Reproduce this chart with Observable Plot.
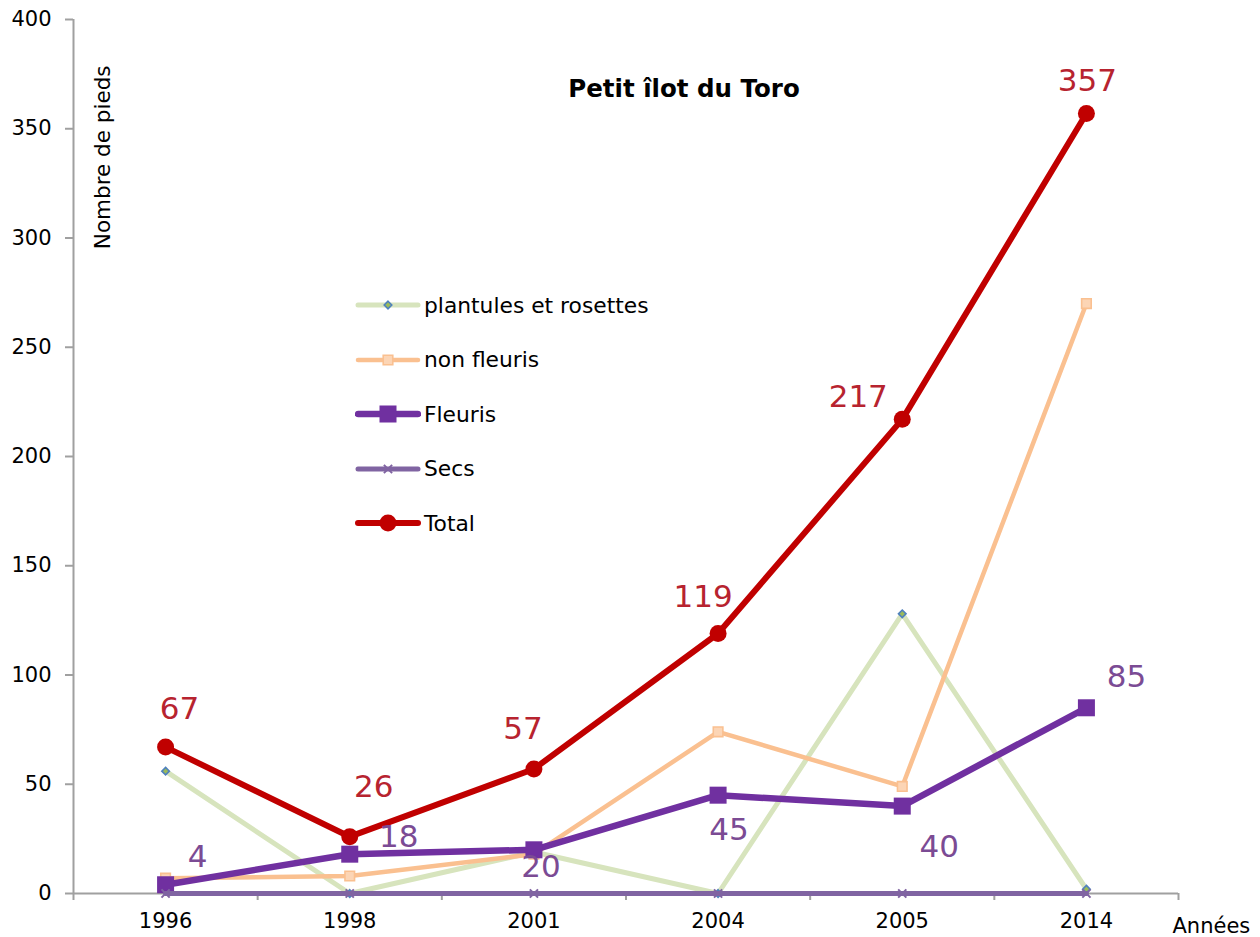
<!DOCTYPE html>
<html>
<head>
<meta charset="utf-8">
<script src="https://cdn.jsdelivr.net/npm/d3@7"></script>
<script src="https://cdn.jsdelivr.net/npm/@observablehq/plot@0.6"></script>
<style>
  body { margin: 0; background: #fff; font-family: "DejaVu Sans", Verdana, sans-serif; }
  #chart { position: relative; width: 1260px; height: 937px; }
  #chart svg { display: block; }
  .title { position: absolute; left: 684px; top: 88px; transform: translate(-50%, -50%);
           font-weight: bold; font-size: 24.5px; color: #000; white-space: nowrap; }
  .legend { position: absolute; left: 355px; top: 278px; }
  .legend .row { display: flex; align-items: center; height: 54.5px; }
  .legend .row span { font-size: 21.8px; color: #000; margin-left: 3px; white-space: nowrap; }
</style>
</head>
<body>
<div id="chart">
  <div class="title">Petit îlot du Toro</div>
  <div class="legend" id="legend"></div>
</div>
<script>
// Relevés par année
const years = ["1996", "1998", "2001", "2004", "2005", "2014"];
const plantules = [56, 0, 19, 0, 128, 2];
const nonFleuris = [7, 8, 18, 74, 49, 270];
const fleuris = [4, 18, 20, 45, 40, 85];
const secs = [0, 0, 0, 0, 0, 0];
const total = [67, 26, 57, 119, 217, 357];
const yTicks = [0, 50, 100, 150, 200, 250, 300, 350, 400];

// Décalages (px) des étiquettes de valeurs
const totalLabelOffsets = [[14, -38], [24, -50], [-11, -40], [-15, -36], [-44, -22], [1, -32]];
const fleurisLabelOffsets = [[32, -28], [49, -17], [7, 17], [11, 35], [37, 41], [40, -31]];

const series = [
  {name: "plantules et rosettes", values: plantules, line: "#d7e4bd", width: 5,
   symbol: "diamond2", r: 3.4, fill: "#9bbb59", stroke: "#4f81bd", sw: 1.6},
  {name: "non fleuris", values: nonFleuris, line: "#fac090", width: 4.5,
   symbol: "square", r: 5.4, fill: "#fcd5b5", stroke: "#fac090", sw: 1.6},
  {name: "Fleuris", values: fleuris, line: "#7030a0", width: 6.5,
   symbol: "square", r: 9.6, fill: "#7030a0", stroke: "none", sw: 0},
  {name: "Secs", values: secs, line: "#8064a2", width: 5,
   symbol: "times", r: 3.8, fill: "none", stroke: "#8064a2", sw: 2},
  {name: "Total", values: total, line: "#c00000", width: 6,
   symbol: "circle", r: 8.5, fill: "#c00000", stroke: "none", sw: 0}
];

const rowsOf = (s) => s.values.map((v, i) => ({i, year: years[i], v, name: s.name}));

const seriesMarks = series.flatMap((s) => {
  const rows = rowsOf(s);
  return [
    Plot.line(rows, {x: "i", y: "v", stroke: s.line, strokeWidth: s.width,
                     strokeLinejoin: "round", strokeLinecap: "round"}),
    Plot.dot(rows, {x: "i", y: "v", symbol: s.symbol, r: s.r, fill: s.fill,
                    stroke: s.stroke, strokeWidth: s.sw})
  ];
});

const valueLabels = (values, offsets, color) =>
  values.map((v, i) =>
    Plot.text([{i, v}], {x: "i", y: "v", text: (d) => String(d.v), fill: color,
                         fontSize: 31, textAnchor: "middle", lineAnchor: "middle",
                         dx: offsets[i][0], dy: offsets[i][1]}));

const xIndex = years.map((_, i) => i);
const xBounds = d3.range(-0.5, years.length, 1);
const axisGrey = "#a0a0a0";

const chart = Plot.plot({
  width: 1260,
  height: 937,
  marginLeft: 73,
  marginRight: 82,
  marginTop: 19,
  marginBottom: 44,
  style: {fontFamily: "'DejaVu Sans', Verdana, sans-serif", background: "#fff"},
  x: {type: "linear", domain: [-0.5, years.length - 0.5], axis: null},
  y: {domain: [0, 400], axis: null},
  marks: [
    Plot.axisY({ticks: yTicks, tickSize: 8, tickPadding: 14, fontSize: 21,
                stroke: axisGrey, strokeWidth: 2, fill: "#000", label: null}),
    Plot.axisX({ticks: xBounds, tickSize: 7, tickFormat: () => "",
                stroke: axisGrey, strokeWidth: 2, label: null}),
    Plot.axisX({ticks: xIndex, tickSize: 0, tickPadding: 20, fontSize: 21,
                tickFormat: (i) => years[i], fill: "#000", label: null}),
    Plot.ruleX([-0.5], {stroke: axisGrey, strokeWidth: 2}),
    Plot.ruleY([0], {stroke: axisGrey, strokeWidth: 2}),
    Plot.text(["Nombre de pieds"], {frameAnchor: "top-left", rotate: -90,
              textAnchor: "end", lineAnchor: "middle", dx: 30, dy: 46,
              fontSize: 21.5, fill: "#000"}),
    Plot.text(["Années"], {frameAnchor: "bottom-right", textAnchor: "start",
              lineAnchor: "middle", dx: -6, dy: 33, fontSize: 21, fill: "#000"}),
    ...seriesMarks,
    ...valueLabels(total, totalLabelOffsets, "#b7232f"),
    ...valueLabels(fleuris, fleurisLabelOffsets, "#7b4b94")
  ]
});

const container = document.getElementById("chart");
container.insertBefore(chart, container.firstChild);

// Légende
const legend = d3.select("#legend");
series.forEach((s) => {
  const row = legend.append("div").attr("class", "row");
  const sw = row.append("svg").attr("width", 66).attr("height", 22);
  sw.append("line").attr("x1", 3).attr("x2", 63).attr("y1", 11).attr("y2", 11)
    .attr("stroke", s.line).attr("stroke-width", s.width).attr("stroke-linecap", "round");
  const symType = {circle: d3.symbolCircle, square: d3.symbolSquare,
                   diamond2: d3.symbolDiamond2, times: d3.symbolTimes}[s.symbol];
  sw.append("path")
    .attr("transform", "translate(33,11)")
    .attr("d", d3.symbol(symType, s.r * s.r * Math.PI)())
    .attr("fill", s.fill).attr("stroke", s.stroke).attr("stroke-width", s.sw);
  row.append("span").text(s.name);
});
</script>
</body>
</html>
